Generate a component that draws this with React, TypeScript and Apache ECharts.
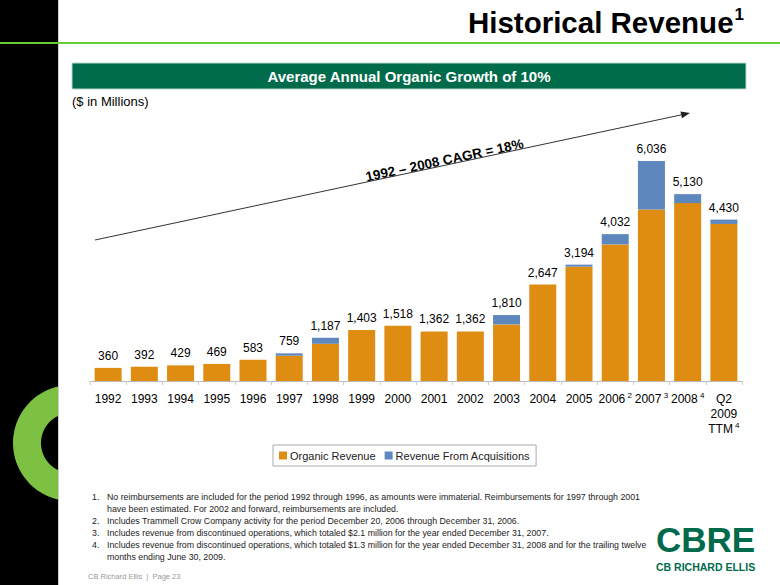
import React, { useEffect, useRef } from "react";
import * as echarts from "echarts";

const categories = ["1992","1993","1994","1995","1996","1997","1998","1999","2000","2001","2002","2003","2004","2005","2006","2007","2008","Q2\n2009\nTTM"];
const superscripts = ["","","","","","","","","","","","","","","2","3","4","4"];
const organicRevenue = [360,392,429,469,583,695,1022,1403,1518,1362,1362,1554,2647,3139,3749,4706,4883,4311];
const acquisitionRevenue = [0,0,0,0,0,64,165,0,0,0,0,256,0,55,283,1330,247,119];
const totalLabels = ["360","392","429","469","583","759","1,187","1,403","1,518","1,362","1,362","1,810","2,647","3,194","4,032","6,036","5,130","4,430"];
const seriesNames = ["Organic Revenue", "Revenue From Acquisitions"];
const footnotes = [
  ["1.", "No reimbursements are included for the period 1992 through 1996, as amounts were immaterial. Reimbursements for 1997 through 2001"],
  ["", "have been estimated. For 2002 and forward, reimbursements are included."],
  ["2.", "Includes Trammell Crow Company activity for the period December 20, 2006 through December 31, 2006."],
  ["3.", "Includes revenue from discontinued operations, which totaled $2.1 million for the year ended December 31, 2007."],
  ["4.", "Includes revenue from discontinued operations, which totaled $1.3 million for the year ended December 31, 2008 and for the trailing twelve"],
  ["", "months ending June 30, 2009."],
];

const FONT = "Liberation Sans, Arial, Helvetica, sans-serif";
const ORANGE = "#DF8C12";
const BLUE = "#5E87BD";

function ringPoints(cx: number, cy: number, R: number, r: number, cutX: number) {
  const pts: number[][] = [];
  const aO = Math.acos((cutX - cx) / R);
  const aI = Math.acos((cutX - cx) / r);
  const n = 40;
  for (let i = 0; i <= n; i++) {
    const a = aO + ((2 * Math.PI - 2 * aO) * i) / n;
    pts.push([cx + R * Math.cos(a), cy - R * Math.sin(a)]);
  }
  for (let i = n; i >= 0; i--) {
    const a = aI + ((2 * Math.PI - 2 * aI) * i) / n;
    pts.push([cx + r * Math.cos(a), cy - r * Math.sin(a)]);
  }
  return pts;
}

export default function App() {
  const ref = useRef<HTMLDivElement>(null);
  useEffect(() => {
    if (!ref.current) return;
    const chart = echarts.init(ref.current, null, { renderer: "svg" });

    const x0 = 95, y0 = 240, x1 = 690, y1 = 113;
    const ang = Math.atan2(y0 - y1, x1 - x0);
    const dx = Math.cos(ang), dy = -Math.sin(ang);
    const back = [x1 - 9 * dx, y1 - 9 * dy];
    const nx = -dy, ny = dx;
    const head = [[x1, y1], [back[0] + 3.5 * nx, back[1] + 3.5 * ny], [back[0] - 3.5 * nx, back[1] - 3.5 * ny]];
    const tx = 446;
    const ty = y0 + (tx - x0) * (y1 - y0) / (x1 - x0);

    const graphics: any[] = [
      { type: "rect", shape: { x: 0, y: 0, width: 58, height: 585 }, style: { fill: "#000" }, z: -10 },
      { type: "polygon", shape: { points: ringPoints(71, 443, 58, 30, 58) }, style: { fill: "#7DC142" }, z: -9 },
      { type: "line", shape: { x1: 58.5, y1: 0, x2: 58.5, y2: 585 }, style: { stroke: "#cfcfcf", lineWidth: 1 }, z: -8 },
      { type: "line", shape: { x1: 0, y1: 43, x2: 780, y2: 43 }, style: { stroke: "#66CC33", lineWidth: 2 }, z: -8 },
      {
        type: "text", x: 744, y: 22,
        style: {
          text: "{t|Historical Revenue}{s|1}", align: "right", verticalAlign: "middle",
          rich: {
            t: { fontSize: 29.5, fontWeight: "bold", fontFamily: FONT, fill: "#000", lineHeight: 32 },
            s: { fontSize: 17, fontWeight: "bold", fontFamily: FONT, fill: "#000", verticalAlign: "top", lineHeight: 32, padding: [0, 0, 10, 1] },
          },
        },
      },
      { type: "rect", shape: { x: 72, y: 63, width: 674, height: 26 }, style: { fill: "#006B4A", stroke: "#b9d9cc", lineWidth: 1 } },
      { type: "text", x: 409, y: 76, style: { text: "Average Annual Organic Growth of 10%", fill: "#fff", fontSize: 15, fontWeight: "bold", fontFamily: FONT, align: "center", verticalAlign: "middle" } },
      { type: "text", x: 72, y: 101, style: { text: "($ in Millions)", fill: "#000", fontSize: 13, fontFamily: FONT, align: "left", verticalAlign: "middle" } },
      { type: "line", shape: { x1: x0, y1: y0, x2: back[0], y2: back[1] }, style: { stroke: "#333", lineWidth: 1 } },
      { type: "polygon", shape: { points: head }, style: { fill: "#222" } },
      { type: "text", x: tx, y: ty + 2, rotation: ang, style: { text: "1992 – 2008 CAGR = 18%", fill: "#000", fontSize: 13.5, fontWeight: "bold", fontFamily: FONT, align: "center", verticalAlign: "bottom" } },
      { type: "text", x: 656, y: 539.5, style: { text: "CBRE", fill: "#006A4D", fontSize: 35, fontWeight: "bold", fontFamily: FONT, align: "left", verticalAlign: "middle" } },
      { type: "text", x: 656, y: 566.5, style: { text: "CB RICHARD ELLIS", fill: "#006A4D", fontSize: 10.5, fontWeight: "bold", fontFamily: FONT, align: "left", verticalAlign: "middle" } },
      { type: "text", x: 88, y: 576, style: { text: "CB Richard Ellis  |  Page 23", fill: "#999", fontSize: 7.5, fontFamily: FONT, align: "left", verticalAlign: "middle" } },
    ];
    footnotes.forEach((f, i) => {
      const y = 497 + i * 12;
      if (f[0]) graphics.push({ type: "text", x: 92, y, style: { text: f[0], fill: "#222", fontSize: 8.8, fontFamily: FONT, align: "left", verticalAlign: "middle" } });
      graphics.push({ type: "text", x: 107, y, style: { text: f[1], fill: "#222", fontSize: 8.8, fontFamily: FONT, align: "left", verticalAlign: "middle" } });
    });

    chart.setOption({
      animation: false,
      backgroundColor: "#fff",
      textStyle: { fontFamily: FONT },
      grid: { left: 90, right: 38, top: 126, bottom: 204, containLabel: false },
      legend: {
        data: seriesNames,
        left: 273, top: 445,
        orient: "horizontal",
        borderColor: "#aaa", borderWidth: 1,
        padding: [5, 6], itemGap: 9, itemWidth: 8, itemHeight: 8,
        icon: "rect",
        textStyle: { fontSize: 11, color: "#222", fontFamily: FONT, padding: [0, 0, 0, -2] },
      },
      xAxis: {
        type: "category",
        data: categories,
        axisLine: { lineStyle: { color: "#bbb", width: 1 } },
        axisTick: { show: true, length: 4, lineStyle: { color: "#ccc" } },
        axisLabel: {
          interval: 0, margin: 10, color: "#000",
          formatter: (v: string, i: number) => {
            const lines = v.split("\n");
            const sup = superscripts[i];
            return lines.map((l, k) => (k === lines.length - 1 && sup ? `{a|${l}}{s| ${sup}}` : `{a|${l}}`)).join("\n");
          },
          rich: {
            a: { fontSize: 12, fontFamily: FONT, color: "#000", lineHeight: 15 },
            s: { fontSize: 8, fontFamily: FONT, color: "#000", verticalAlign: "top", lineHeight: 15, padding: [0, 0, 5, 0] },
          },
        },
      },
      yAxis: { type: "value", min: 0, max: 7000, show: false, splitLine: { show: false } },
      graphic: graphics,
      series: [
        {
          name: seriesNames[0], type: "bar", stack: "rev", data: organicRevenue, barWidth: 27,
          itemStyle: { color: ORANGE },
        },
        {
          name: seriesNames[1], type: "bar", stack: "rev", data: acquisitionRevenue, barWidth: 27,
          itemStyle: { color: BLUE },
          label: {
            show: true, position: "top", distance: 6, color: "#000", fontSize: 12, fontFamily: FONT,
            formatter: (p: any) => totalLabels[p.dataIndex],
          },
        },
      ],
    });
    return () => chart.dispose();
  }, []);
  return <div ref={ref} style={{ position: "absolute", left: 0, top: 0, width: 780, height: 585, background: "#fff" }} />;
}
